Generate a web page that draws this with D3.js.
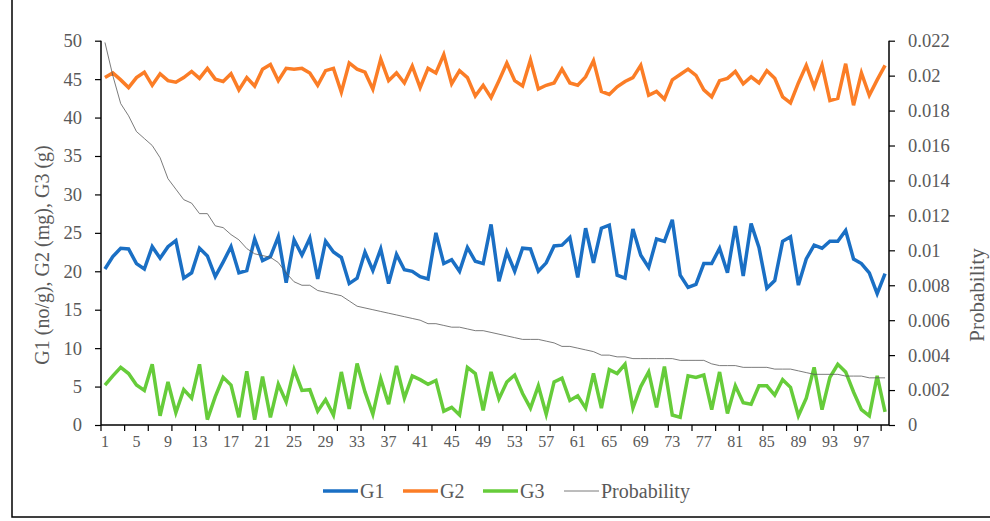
<!DOCTYPE html>
<html>
<head>
<meta charset="utf-8">
<script src="https://d3js.org/d3.v7.min.js"></script>
<style>
  body { margin: 0; background: #fff; }
  svg { display: block; }
</style>
</head>
<body>
<div id="chart"></div>
<script>
// values, sample 1..100
var G1 = [20.3, 21.9, 23.0, 22.9, 21.0, 20.3, 23.2, 21.7, 23.2, 24.0,
  19.1, 19.8, 23.0, 22.0, 19.3, 21.2, 23.2, 19.8, 20.1, 24.2,
  21.4, 21.9, 24.5, 18.5, 24.1, 22.1, 24.3, 19.0, 23.9, 22.5,
  21.8, 18.4, 19.1, 22.5, 20.1, 22.9, 18.4, 22.2, 20.2, 20.0,
  19.3, 19.0, 25.0, 21.0, 21.5, 20.0, 23.1, 21.3, 21.0, 26.1,
  18.7, 22.5, 20.0, 23.0, 22.9, 20.0, 21.1, 23.3, 23.4, 24.4,
  19.2, 25.6, 21.1, 25.6, 26.0, 19.5, 19.1, 25.5, 22.1, 20.5,
  24.2, 23.9, 26.7, 19.5, 17.9, 18.3, 21.0, 21.0, 23.0, 19.8,
  25.9, 19.4, 26.2, 23.1, 17.8, 18.8, 23.9, 24.5, 18.2, 21.6,
  23.4, 23.0, 23.9, 23.9, 25.3, 21.6, 21.0, 19.8, 17.1, 19.7];

var G2 = [45.2, 45.8, 44.9, 43.9, 45.2, 45.9, 44.2, 45.7, 44.8, 44.6,
  45.2, 46.0, 45.1, 46.4, 45.0, 44.7, 45.7, 43.6, 45.2, 44.1,
  46.3, 46.9, 44.8, 46.4, 46.3, 46.4, 45.8, 44.2, 46.1, 46.4,
  43.3, 47.1, 46.3, 45.9, 43.7, 47.6, 44.8, 45.8, 44.5, 46.7,
  43.9, 46.4, 45.8, 48.2, 44.4, 46.1, 45.2, 42.8, 44.2, 42.6,
  44.8, 47.1, 44.8, 44.1, 47.5, 43.7, 44.2, 44.5, 46.3, 44.5,
  44.2, 45.3, 47.4, 43.4, 43.0, 44.0, 44.7, 45.2, 46.8, 42.9,
  43.4, 42.4, 44.9, 45.6, 46.3, 45.5, 43.6, 42.7, 44.8, 45.1,
  46.0, 44.4, 45.3, 44.5, 46.1, 45.1, 42.7, 41.9, 44.5, 46.8,
  44.0, 46.8, 42.2, 42.5, 47.0, 41.6, 45.8, 42.9, 44.9, 46.8];

var G3 = [5.2, 6.4, 7.5, 6.7, 5.2, 4.5, 7.9, 1.2, 5.6, 1.6,
  4.6, 3.5, 7.9, 0.7, 3.7, 6.2, 5.2, 1.0, 7.0, 0.7,
  6.3, 1.0, 5.3, 3.0, 7.2, 4.5, 4.6, 1.8, 3.3, 1.3,
  6.9, 2.1, 8.0, 4.3, 1.4, 6.0, 2.7, 7.7, 3.5, 6.4,
  5.9, 5.3, 5.8, 1.8, 2.3, 1.3, 7.5, 6.7, 1.9, 6.9,
  3.4, 5.6, 6.5, 4.1, 2.2, 5.1, 1.4, 5.6, 6.1, 3.2,
  3.8, 2.2, 6.7, 2.2, 7.2, 6.7, 7.9, 2.2, 5.0, 6.9,
  2.3, 7.6, 1.3, 1.0, 6.4, 6.2, 6.5, 2.0, 6.9, 1.5,
  5.1, 2.9, 2.7, 5.1, 5.1, 3.9, 5.9, 4.9, 1.2, 3.5,
  7.5, 2.0, 6.2, 7.9, 6.9, 4.3, 2.0, 1.2, 6.4, 1.7];

var probability = [0.0219, 0.0200, 0.0184, 0.0177, 0.0168, 0.0164, 0.0160, 0.0153, 0.0141, 0.0135,
  0.0129, 0.0127, 0.0121, 0.0121, 0.0114, 0.0113, 0.0109, 0.0106, 0.0101, 0.0098,
  0.0097, 0.0096, 0.0093, 0.0087, 0.0082, 0.0080, 0.0080, 0.0077, 0.0076, 0.0075,
  0.0074, 0.0071, 0.0068, 0.0067, 0.0066, 0.0065, 0.0064, 0.0063, 0.0062, 0.0061,
  0.0060, 0.0058, 0.0058, 0.0057, 0.0056, 0.0056, 0.0055, 0.0054, 0.0054, 0.0053,
  0.0052, 0.0051, 0.0050, 0.0049, 0.0049, 0.0049, 0.0048, 0.0047, 0.0045, 0.0045,
  0.0044, 0.0043, 0.0042, 0.0040, 0.0040, 0.0039, 0.0039, 0.0038, 0.0038, 0.0038,
  0.0038, 0.0038, 0.0038, 0.0037, 0.0037, 0.0037, 0.0037, 0.0035, 0.0034, 0.0034,
  0.0034, 0.0033, 0.0033, 0.0033, 0.0033, 0.0032, 0.0032, 0.0032, 0.0031, 0.0030,
  0.0029, 0.0029, 0.0029, 0.0029, 0.0028, 0.0028, 0.0028, 0.0027, 0.0027, 0.0027];

var categories = d3.range(1, G1.length + 1);
var leftTicks = [0, 5, 10, 15, 20, 25, 30, 35, 40, 45, 50];
var rightTicks = [0, 0.002, 0.004, 0.006, 0.008, 0.01, 0.012, 0.014, 0.016, 0.018, 0.02, 0.022];

var series = [
  {name: "G1", values: G1, color: "#1a6fc4", width: 3.5, axis: "left"},
  {name: "G2", values: G2, color: "#fb7d26", width: 3.5, axis: "left"},
  {name: "G3", values: G3, color: "#66cc3a", width: 3.5, axis: "left"},
  {name: "Probability", values: probability, color: "#595959", width: 0.8, axis: "right"}
];

var W = 990, H = 521;
var plot = {left: 101, right: 889, top: 40.7, bottom: 425};
var font = "'Liberation Serif', 'Times New Roman', serif";
var textColor = "#595959";

var svg = d3.select("#chart").append("svg")
  .attr("width", W)
  .attr("height", H);

// outer frame of the figure (right edge runs off the page)
svg.append("rect")
  .attr("x", 12).attr("y", -2)
  .attr("width", 985).attr("height", 519)
  .style("fill", "none")
  .style("stroke", "#000")
  .style("stroke-width", 1.5);

var x = d3.scaleBand()
  .domain(categories)
  .range([plot.left, plot.right]);

var yL = d3.scaleLinear().domain([0, 50]).range([plot.bottom, plot.top]);
var yR = d3.scaleLinear().domain([0, 0.022]).range([plot.bottom, plot.top]);

function cx(i) { return x(categories[i]) + x.bandwidth() / 2; }

// left axis
var leftAxis = svg.append("g")
  .attr("transform", "translate(" + plot.left + ",0)")
  .call(d3.axisLeft(yL).tickValues(leftTicks).tickSize(6).tickPadding(13).tickFormat(d3.format("d")));

// right axis
var rightAxis = svg.append("g")
  .attr("transform", "translate(" + plot.right + ",0)")
  .call(d3.axisRight(yR).tickValues(rightTicks).tickSize(6).tickPadding(13).tickFormat(function(d) { return d3.format("~g")(+d.toFixed(3)); }));

// bottom axis: marks every 3 categories, labels every 4
var bottom = svg.append("g").attr("class", "xaxis");
bottom.append("line")
  .attr("x1", plot.left).attr("x2", plot.right)
  .attr("y1", plot.bottom).attr("y2", plot.bottom)
  .style("stroke", "#000").style("stroke-width", 1.5);

bottom.selectAll(".xtick")
  .data(categories.filter(function(d) { return (d - 1) % 3 === 0; }))
  .enter().append("line")
  .attr("class", "xtick")
  .attr("x1", function(d) { return x(d); })
  .attr("x2", function(d) { return x(d); })
  .attr("y1", plot.bottom).attr("y2", plot.bottom + 6)
  .style("stroke", "#000").style("stroke-width", 1.2);

bottom.selectAll(".xlabel")
  .data(categories.filter(function(d) { return (d - 1) % 4 === 0; }))
  .enter().append("text")
  .attr("class", "xlabel")
  .attr("x", function(d) { return x(d) + x.bandwidth() / 2; })
  .attr("y", plot.bottom + 22)
  .attr("text-anchor", "middle")
  .style("font-family", font)
  .style("font-size", "16px")
  .style("fill", textColor)
  .text(function(d) { return d; });

[leftAxis, rightAxis].forEach(function(a) {
  a.select(".domain").style("stroke", "#000").style("stroke-width", 1.5);
  a.selectAll(".tick line").style("stroke", "#000").style("stroke-width", 1.2);
  a.selectAll(".tick text")
    .style("font-family", font)
    .style("font-size", "18.5px")
    .style("fill", textColor);
});
leftAxis.select(".domain").attr("d", "M0," + plot.bottom + "V" + plot.top);
rightAxis.select(".domain").attr("d", "M0," + plot.bottom + "V" + plot.top);

// axis titles
svg.append("text")
  .attr("transform", "translate(49,255) rotate(-90)")
  .attr("text-anchor", "middle")
  .style("font-family", font)
  .style("font-size", "20px")
  .style("fill", textColor)
  .text("G1 (no/g), G2 (mg), G3 (g)");

svg.append("text")
  .attr("transform", "translate(984,295) rotate(-90)")
  .attr("text-anchor", "middle")
  .style("font-family", font)
  .style("font-size", "21px")
  .style("fill", textColor)
  .text("Probability");

// lines
series.forEach(function(s) {
  var yScale = s.axis === "left" ? yL : yR;
  var line = d3.line()
    .x(function(d, i) { return cx(i); })
    .y(function(d) { return yScale(d); });
  svg.append("path")
    .datum(s.values)
    .attr("d", line)
    .style("fill", "none")
    .style("stroke", s.color)
    .style("stroke-width", s.width)
    .style("stroke-linejoin", "miter");
});

// legend
var legendPos = [323, 403, 483, 564];
var legend = svg.selectAll(".legend")
  .data(series)
  .enter().append("g")
  .attr("class", "legend")
  .attr("transform", function(d, i) { return "translate(" + legendPos[i] + ",491)"; });

legend.append("line")
  .attr("x1", 0).attr("x2", 35)
  .attr("y1", 0).attr("y2", 0)
  .style("stroke", function(d) { return d.color; })
  .style("stroke-width", function(d) { return d.width; });

legend.append("text")
  .attr("x", 37)
  .attr("y", 6.5)
  .style("font-family", font)
  .style("font-size", "20px")
  .style("fill", textColor)
  .text(function(d) { return d.name; });
</script>
</body>
</html>
